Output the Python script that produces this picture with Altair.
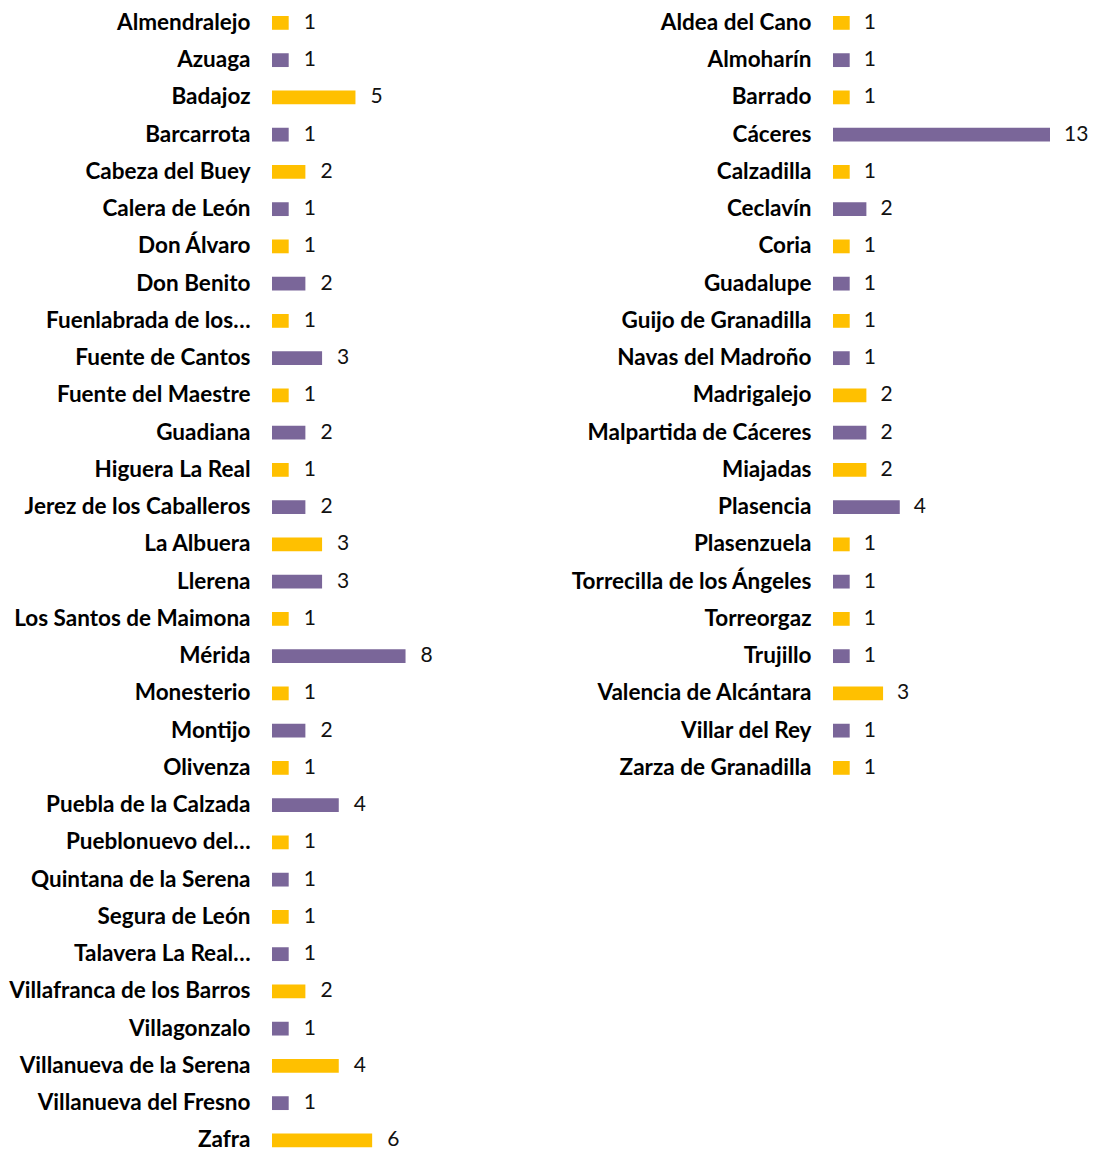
import altair as alt
import pandas as pd

left_names = ["Almendralejo", "Azuaga", "Badajoz", "Barcarrota", "Cabeza del Buey",
              "Calera de León", "Don Álvaro", "Don Benito", "Fuenlabrada de los…",
              "Fuente de Cantos", "Fuente del Maestre", "Guadiana", "Higuera La Real",
              "Jerez de los Caballeros", "La Albuera", "Llerena", "Los Santos de Maimona",
              "Mérida", "Monesterio", "Montijo", "Olivenza", "Puebla de la Calzada",
              "Pueblonuevo del…", "Quintana de la Serena", "Segura de León",
              "Talavera La Real…", "Villafranca de los Barros", "Villagonzalo",
              "Villanueva de la Serena", "Villanueva del Fresno", "Zafra"]
left_values = [1, 1, 5, 1, 2, 1, 1, 2, 1, 3, 1, 2, 1, 2, 3, 3, 1, 8, 1, 2, 1, 4, 1, 1, 1,
               1, 2, 1, 4, 1, 6]

right_names = ["Aldea del Cano", "Almoharín", "Barrado", "Cáceres", "Calzadilla",
               "Ceclavín", "Coria", "Guadalupe", "Guijo de Granadilla",
               "Navas del Madroño", "Madrigalejo", "Malpartida de Cáceres", "Miajadas",
               "Plasencia", "Plasenzuela", "Torrecilla de los Ángeles", "Torreorgaz",
               "Trujillo", "Valencia de Alcántara", "Villar del Rey", "Zarza de Granadilla"]
right_values = [1, 1, 1, 13, 1, 2, 1, 1, 1, 1, 2, 2, 2, 4, 1, 1, 1, 1, 3, 1, 1]

GOLD = "#FFC000"
PURPLE = "#7A6699"
FONT = "Lato"
LABEL_FS = 22.5
VALUE_FS = 21
STEP = 37.25


def panel(names, values, dx):
    df = pd.DataFrame({
        "name": names,
        "value": values,
        "grp": ["a" if i % 2 == 0 else "b" for i in range(len(names))],
    })
    y = alt.Y("name:N", sort=None, title=None,
              scale=alt.Scale(paddingInner=0.63, paddingOuter=0),
              axis=alt.Axis(domain=False, ticks=False, labelPadding=22,
                            labelFont=FONT, labelFontWeight="bold",
                            labelFontSize=LABEL_FS, labelColor="#000000",
                            labelLimit=400, minExtent=264, maxExtent=264))
    x = alt.X("value:Q", axis=None, scale=alt.Scale(domain=[0, 13], nice=False))
    base = alt.Chart(df).encode(y=y, x=x)
    bars = base.mark_bar().encode(
        color=alt.Color("grp:N", legend=None,
                        scale=alt.Scale(domain=["a", "b"], range=[GOLD, PURPLE])))
    txt = base.mark_text(align="left", baseline="middle", dx=dx, font=FONT,
                         fontSize=VALUE_FS, color="#111111").encode(text="value:Q")
    return (bars + txt).properties(width=217, height=alt.Step(STEP))


chart = (
    alt.hconcat(panel(left_names, left_values, 15),
                panel(right_names, right_values, 14),
                spacing=80)
    .properties(background="white",
                padding={"top": 3, "bottom": 0, "left": 0, "right": 0})
    .configure_view(strokeWidth=0)
)

chart.save("out.html", embed_options={"renderer": "svg", "actions": False})
